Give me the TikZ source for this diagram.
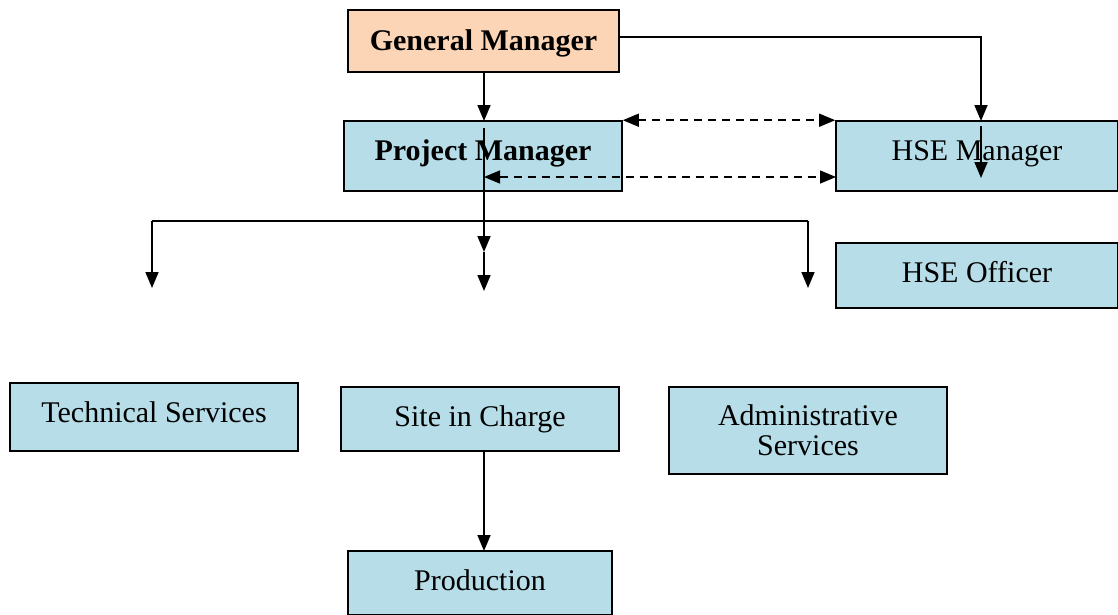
\documentclass[tikz,border=0pt]{standalone}
\usepackage{fontspec}
\setmainfont{Liberation Serif}
\usetikzlibrary{arrows.meta}
\definecolor{peach}{HTML}{FBD5B5}
\definecolor{lblue}{HTML}{B6DDE8}
\begin{document}
\begin{tikzpicture}[x=1pt,y=-1pt,
  box/.style={draw=black,line width=1.6pt,fill=lblue,inner sep=0pt,align=center,
    font=\fontsize{30}{33}\selectfont},
  gmbox/.style={box,fill=peach},
  arr/.style={line width=1.7pt,-{Triangle[length=16pt,width=13pt]}},
  darr/.style={line width=1.5pt,dash pattern=on 8pt off 6pt,{Triangle[length=16pt,width=13pt]}-{Triangle[length=16pt,width=13pt]}},
  ln/.style={line width=1.7pt}]
\useasboundingbox (0,0) rectangle (1118,614);
\node[gmbox,minimum width=271pt,minimum height=62pt,text depth=2pt] (gm) at (483.5,41) {\textbf{General Manager}};
\node[box,minimum width=278pt,minimum height=70pt,text depth=12pt] (pm) at (483,156) {\textbf{Project Manager}};
\node[box,minimum width=282pt,minimum height=70pt,text depth=10pt] (hsem) at (977,156) {HSE Manager};
\node[box,minimum width=282pt,minimum height=65pt,text depth=8pt] (hseo) at (977,275.5) {HSE Officer};
\node[box,minimum width=288pt,minimum height=68pt,text depth=10pt] (ts) at (154,417) {Technical Services};
\node[box,minimum width=278pt,minimum height=64pt] (sic) at (480,419) {Site in Charge};
\node[box,minimum width=278pt,minimum height=87pt] (as) at (808,430.5) {Administrative\\[-3pt]Services};
\node[box,minimum width=264pt,minimum height=64pt,text depth=6pt] (prod) at (480,583) {Production};
% coordinates
\coordinate (gmB) at (484,72);
\coordinate (pmT) at (484,121);
\coordinate (gmR) at (619,37);
\coordinate (hsemTop) at (981,121);
\coordinate (hsemIn) at (981,126);
\coordinate (hsemInEnd) at (981,178);
\coordinate (pmLineTop) at (484,128);
\coordinate (pmMid) at (484,252);
\coordinate (pmEnd) at (484,291);
\coordinate (busL) at (152,221);
\coordinate (busR) at (808,221);
\coordinate (busLEnd) at (152,288);
\coordinate (busREnd) at (808,288);
\coordinate (dashL) at (484,177);
\coordinate (dashR) at (836,177);
\coordinate (sicB) at (484,451);
\coordinate (prodT) at (484,551);
% connectors
\draw[arr] (gmB) -- (pmT);
\draw[arr] (gmR) -| (hsemTop);
\draw[arr] (hsemIn) -- (hsemInEnd);
\draw[darr] (pm.north east) -- (hsem.north west);
\draw[darr] (dashL) -- (dashR);
\draw[arr] (pmLineTop) -- (pmMid);
\draw[arr] (pmMid) -- (pmEnd);
\draw[ln] (busL) -- (busR);
\draw[arr] (busL) -- (busLEnd);
\draw[arr] (busR) -- (busREnd);
\draw[arr] (sicB) -- (prodT);
\end{tikzpicture}
\end{document}
